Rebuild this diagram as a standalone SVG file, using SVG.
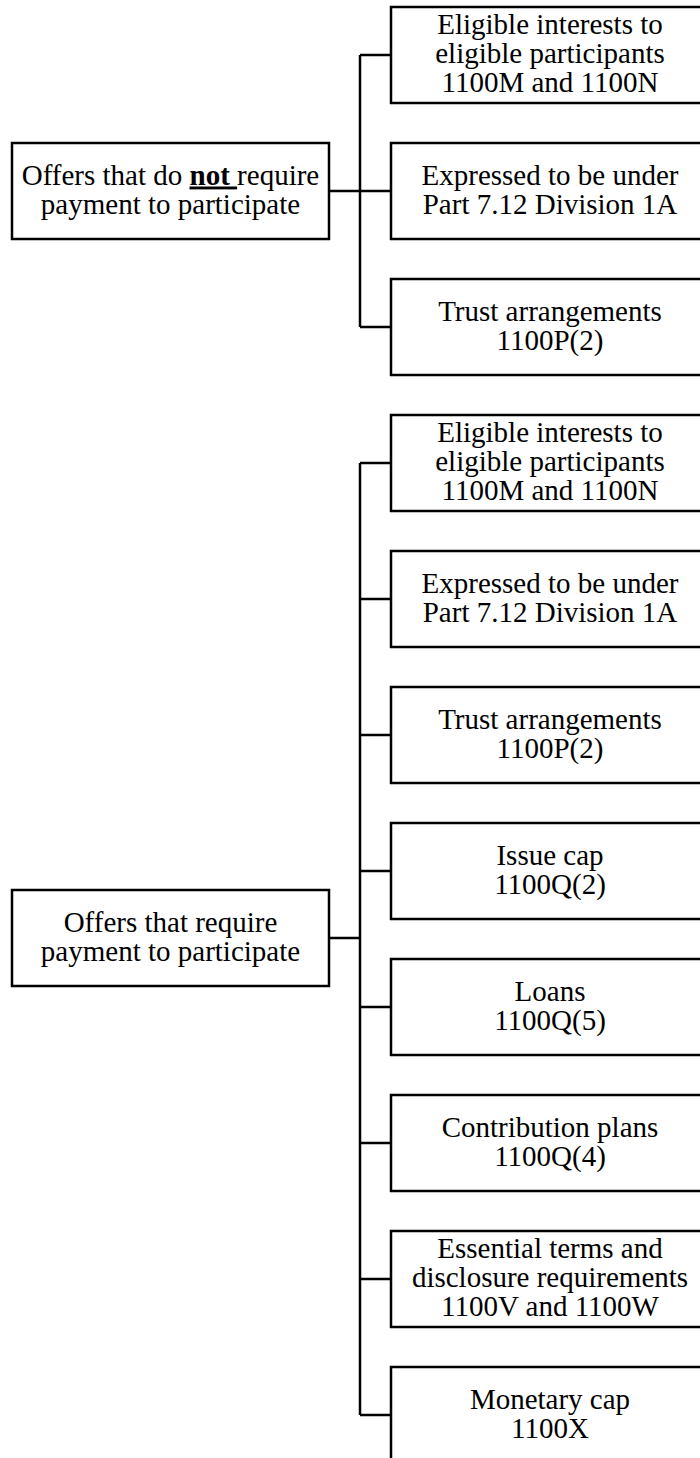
<svg xmlns="http://www.w3.org/2000/svg" width="700" height="1458" viewBox="0 0 700 1458">
<style>
  .box { fill: #ffffff; stroke: #000000; stroke-width: 2.5; }
  .lbl { font-family: "Liberation Serif", "Times New Roman", serif; font-size: 29px; fill: #000000; text-anchor: middle; }
  .conn { fill: none; stroke: #000000; stroke-width: 2.5; }
</style>
<rect x="0" y="0" width="700" height="1458" fill="#ffffff"/>
<g id="connectors">
  <path class="conn" d="M329 191 H360 M360 55 V327 M360 55 H391 M360 191 H391 M360 327 H391"/>
  <path class="conn" d="M329 938 H360 M360 463 V1415 M360 463 H391 M360 599 H391 M360 735 H391 M360 871 H391 M360 1007 H391 M360 1143 H391 M360 1279 H391 M360 1415 H391"/>
</g>
<g id="root-not-pay">
  <rect class="box" x="12" y="143" width="317" height="96"/>
  <text class="lbl" x="170.5"><tspan x="170.5" y="184.5">Offers that do <tspan font-weight="bold" text-decoration="underline">not </tspan>require</tspan><tspan x="170.5" y="213.5">payment to participate</tspan></text>
</g>
<g id="a1">
  <rect class="box" x="391" y="7" width="318" height="96"/>
  <text class="lbl"><tspan x="550" y="34">Eligible interests to</tspan><tspan x="550" y="63">eligible participants</tspan><tspan x="550" y="92">1100M and 1100N</tspan></text>
</g>
<g id="a2">
  <rect class="box" x="391" y="143" width="318" height="96"/>
  <text class="lbl"><tspan x="550" y="184.5">Expressed to be under</tspan><tspan x="550" y="213.5">Part 7.12 Division 1A</tspan></text>
</g>
<g id="a3">
  <rect class="box" x="391" y="279" width="318" height="96"/>
  <text class="lbl"><tspan x="550" y="320.5">Trust arrangements</tspan><tspan x="550" y="349.5">1100P(2)</tspan></text>
</g>
<g id="root-pay">
  <rect class="box" x="12" y="890" width="317" height="96"/>
  <text class="lbl"><tspan x="170.5" y="931.5">Offers that require</tspan><tspan x="170.5" y="960.5">payment to participate</tspan></text>
</g>
<g id="b1">
  <rect class="box" x="391" y="415" width="318" height="96"/>
  <text class="lbl"><tspan x="550" y="442">Eligible interests to</tspan><tspan x="550" y="471">eligible participants</tspan><tspan x="550" y="500">1100M and 1100N</tspan></text>
</g>
<g id="b2">
  <rect class="box" x="391" y="551" width="318" height="96"/>
  <text class="lbl"><tspan x="550" y="592.5">Expressed to be under</tspan><tspan x="550" y="621.5">Part 7.12 Division 1A</tspan></text>
</g>
<g id="b3">
  <rect class="box" x="391" y="687" width="318" height="96"/>
  <text class="lbl"><tspan x="550" y="728.5">Trust arrangements</tspan><tspan x="550" y="757.5">1100P(2)</tspan></text>
</g>
<g id="b4">
  <rect class="box" x="391" y="823" width="318" height="96"/>
  <text class="lbl"><tspan x="550" y="864.5">Issue cap</tspan><tspan x="550" y="893.5">1100Q(2)</tspan></text>
</g>
<g id="b5">
  <rect class="box" x="391" y="959" width="318" height="96"/>
  <text class="lbl"><tspan x="550" y="1000.5">Loans</tspan><tspan x="550" y="1029.5">1100Q(5)</tspan></text>
</g>
<g id="b6">
  <rect class="box" x="391" y="1095" width="318" height="96"/>
  <text class="lbl"><tspan x="550" y="1136.5">Contribution plans</tspan><tspan x="550" y="1165.5">1100Q(4)</tspan></text>
</g>
<g id="b7">
  <rect class="box" x="391" y="1231" width="318" height="96"/>
  <text class="lbl"><tspan x="550" y="1258">Essential terms and</tspan><tspan x="550" y="1287">disclosure requirements</tspan><tspan x="550" y="1316">1100V and 1100W</tspan></text>
</g>
<g id="b8">
  <rect class="box" x="391" y="1367" width="318" height="96"/>
  <text class="lbl"><tspan x="550" y="1408.5">Monetary cap</tspan><tspan x="550" y="1437.5">1100X</tspan></text>
</g>
</svg>
